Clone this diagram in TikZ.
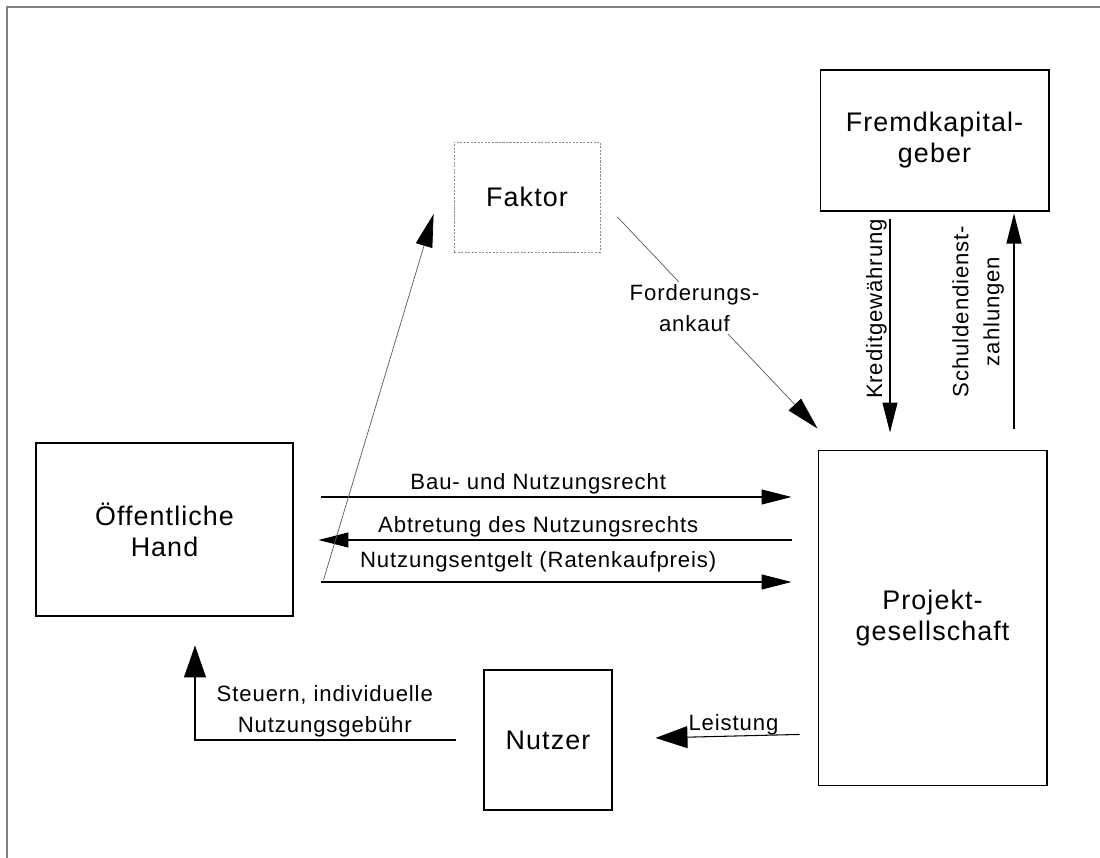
\documentclass[tikz,border=0pt]{standalone}
\usepackage{fontspec}
\setmainfont[LetterSpace=4]{Liberation Sans}
\usetikzlibrary{arrows.meta, positioning, calc}

\begin{document}
\begin{tikzpicture}[x=0.02cm, y=-0.02cm,
  box/.style={draw, line width=0.6pt, align=center, inner sep=0pt,
              font=\fontsize{15.3}{17.6}\selectfont},
  lbl/.style={font=\fontsize{12.6}{17.6}\selectfont, align=center, inner sep=1.5pt, text=black},
  flow/.style={line width=0.6pt, -{Triangle[length=0.6cm, width=0.3cm]}},
  wideflow/.style={line width=0.6pt, -{Triangle[length=0.64cm, width=0.44cm]}},
  thinflow/.style={line width=0.4pt, black!65,
                   -{Triangle[length=0.66cm, width=0.34cm, color=black]}}]
  \useasboundingbox (0,0) rectangle (1100,858);
  % outer frame (only top and left edge show)
  \draw[black!50, line width=0.85pt] (1100,7) -- (7,7) -- (7,858);

  % the parties
  \node[box, minimum width=5.14cm, minimum height=3.46cm] (hand) at (164.5,529.5)
       {Öffentliche\\Hand};
  \node[box, draw=black!45, dash pattern=on 1.2pt off 0.8pt, line width=0.5pt,
        minimum width=2.92cm, minimum height=2.2cm] (faktor) at (527,197) {Faktor};
  \node[box, minimum width=4.58cm, minimum height=2.82cm] (fremd) at (934.5,140.5)
       {Fremdkapital-\\geber};
  \node[box, minimum width=4.58cm, minimum height=6.72cm] (projekt) at (932.5,618)
       {Projekt-\\gesellschaft};
  \node[box, minimum width=2.56cm, minimum height=2.8cm] (nutzer) at (548,740) {Nutzer};

  % Hand <-> Projektgesellschaft
  \draw[flow, shorten <=0.56cm, shorten >=0.52cm] (hand.east |- 0,497) -- (projekt.west |- 0,497)
    node[lbl, pos=0.467, anchor=base, yshift=0.16cm] {Bau- und Nutzungsrecht};
  \draw[flow, shorten <=0.52cm, shorten >=0.5cm] (projekt.west |- 0,540) -- (hand.east |- 0,540)
    node[lbl, pos=0.533, anchor=base, yshift=0.16cm] {Abtretung des Nutzungsrechts};
  \draw[flow, shorten <=0.56cm, shorten >=0.52cm] (hand.east |- 0,582) -- (projekt.west |- 0,582)
    node[lbl, pos=0.467, anchor=base, yshift=0.3cm] {Nutzungsentgelt (Ratenkaufpreis)};

  % via the Faktor
  \draw[thinflow] ([xshift=0.6cm, yshift=-1.01cm]hand.east) -- ([xshift=-0.4cm, yshift=-0.34cm]faktor.west);
  \draw[thinflow] ([xshift=0.34cm, yshift=-0.4cm]faktor.east) -- ([yshift=0.42cm]projekt.north west)
    node[lbl, pos=0.43, xshift=-0.18cm, fill=white] {Forderungs-\\ankauf};

  % credit
  \draw[flow, shorten <=0.14cm, shorten >=0.34cm] (fremd.south -| 890,0) -- (projekt.north -| 890,0)
    node[lbl, pos=0.41, rotate=90, anchor=south] {Kreditgewährung};
  \draw[flow, shorten <=0.42cm, shorten >=0.04cm] (projekt.north -| 1014,0) -- (fremd.south -| 1014,0)
    node[lbl, pos=0.58, xshift=-0.14cm, rotate=90, anchor=south] {Schuldendienst-\\zahlungen};

  % users
  \draw[wideflow, shorten <=0.36cm, shorten >=0.86cm] (projekt.west |- 0,734) -- (nutzer.east |- 0,739)
    node[lbl, pos=0.41, anchor=base, yshift=0.12cm] {Leistung};
  \draw[wideflow, shorten <=0.54cm, shorten >=0.58cm] (nutzer.west) -| (hand.south -| 195,0)
    node[lbl, pos=0.275, anchor=south] {Steuern, individuelle\\Nutzungsgebühr};
\end{tikzpicture}
\end{document}
